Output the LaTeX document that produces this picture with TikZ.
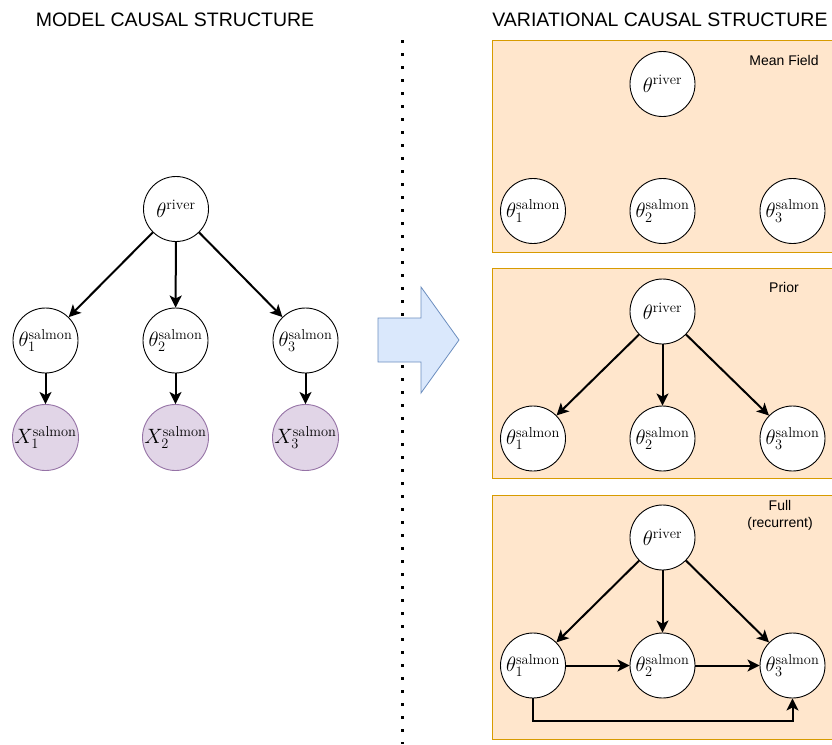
\documentclass[tikz,border=0pt]{standalone}
\usepackage{fontspec}
\newfontfamily\labelfont{Liberation Sans}
\usetikzlibrary{arrows.meta}

\definecolor{panelfill}{HTML}{FFE6CC}
\definecolor{panelline}{HTML}{D79B00}
\definecolor{obsfill}{HTML}{E1D5E7}
\definecolor{obsline}{HTML}{9673A6}
\definecolor{bigfill}{HTML}{DAE8FC}
\definecolor{bigline}{HTML}{6C8EBF}

\tikzset{
  var/.style={circle, draw, fill=white, line width=0.9pt, minimum size=65pt,
    inner sep=0pt, font=\fontsize{20.74}{24}\selectfont},
  obs/.style={var, draw=obsline, fill=obsfill},
  edge/.style={-{Stealth[length=12pt,width=12pt,inset=3pt]}, line width=2pt},
  panel/.style={draw=panelline, fill=panelfill, line width=0.8pt},
  title/.style={font=\labelfont\fontsize{19.5}{23}\selectfont},
  tag/.style={font=\labelfont\fontsize{14}{17}\selectfont, align=center}
}

\begin{document}
\begin{tikzpicture}[x=1pt,y=-1pt]
  \useasboundingbox (0,0) rectangle (832,744);

  % titles
  \node[title] (tmodel) at (175,20) {MODEL CAUSAL STRUCTURE};
  \node[title] (tvar) at (660,20) {VARIATIONAL CAUSAL STRUCTURE};

  % divider
  \coordinate (d0) at (402.5,40);
  \coordinate (d1) at (402.5,744);
  \draw[line width=2.6pt, dash pattern=on 2.6pt off 10.4pt] (d0) -- (d1);

  % big arrow
  \draw[fill=bigfill, draw=bigline, line width=0.8pt]
    (378,318) -- (421,318) -- (421,287) -- (459,340) -- (421,393)
    -- (421,362) -- (378,362) -- cycle;

  % model
  \node[var] (riv) at (176,209) {$\theta^{\mathrm{river}}$};
  \node[var] (s1) at (45.5,340.5) {$\theta_1^{\mathrm{salmon}}$};
  \node[var] (s2) at (175.5,340.5) {$\theta_2^{\mathrm{salmon}}$};
  \node[var] (s3) at (305.5,340.5) {$\theta_3^{\mathrm{salmon}}$};
  \node[obs] (x1) at (45.5,437.5) {$X_1^{\mathrm{salmon}}$};
  \node[obs] (x2) at (175.5,437.5) {$X_2^{\mathrm{salmon}}$};
  \node[obs] (x3) at (305.5,437.5) {$X_3^{\mathrm{salmon}}$};

  \draw[edge] (riv) to (s1);
  \draw[edge] (riv) to (s2);
  \draw[edge] (riv) to (s3);
  \draw[edge] (s1) to (x1);
  \draw[edge] (s2) to (x2);
  \draw[edge] (s3) to (x3);

  % panels
  \draw[panel] (492,40) rectangle (840,252);
  \draw[panel] (492,268) rectangle (840,478);
  \draw[panel] (492,495) rectangle (840,739);

  % mean field
  \node[tag] (tmf) at (784,60) {Mean Field};
  \node[var] (mfriv) at (662.5,84) {$\theta^{\mathrm{river}}$};
  \node[var] (mf1) at (533,211) {$\theta_1^{\mathrm{salmon}}$};
  \node[var] (mf2) at (662.5,211) {$\theta_2^{\mathrm{salmon}}$};
  \node[var] (mf3) at (792.5,211) {$\theta_3^{\mathrm{salmon}}$};

  % prior
  \node[tag] (tpr) at (784,287) {Prior};
  \node[var] (prriv) at (662.5,311.5) {$\theta^{\mathrm{river}}$};
  \node[var] (pr1) at (533,438.5) {$\theta_1^{\mathrm{salmon}}$};
  \node[var] (pr2) at (662.5,438.5) {$\theta_2^{\mathrm{salmon}}$};
  \node[var] (pr3) at (792.5,438.5) {$\theta_3^{\mathrm{salmon}}$};

  \draw[edge] (prriv) to (pr1);
  \draw[edge] (prriv) to (pr2);
  \draw[edge] (prriv) to (pr3);

  % full
  \node[tag] (tfu) at (780,515) {Full\\(recurrent)};
  \node[var] (furiv) at (662.5,537.5) {$\theta^{\mathrm{river}}$};
  \node[var] (fu1) at (533,665.5) {$\theta_1^{\mathrm{salmon}}$};
  \node[var] (fu2) at (662.5,665.5) {$\theta_2^{\mathrm{salmon}}$};
  \node[var] (fu3) at (792.5,665.5) {$\theta_3^{\mathrm{salmon}}$};
  \coordinate (fuloop) at (662.5,721);

  \draw[edge] (furiv) to (fu1);
  \draw[edge] (furiv) to (fu2);
  \draw[edge] (furiv) to (fu3);
  \draw[edge] (fu1) to (fu2);
  \draw[edge] (fu2) to (fu3);
  \draw[edge] (fu1.south) |- (fuloop) -| (fu3.south);
\end{tikzpicture}
\end{document}
